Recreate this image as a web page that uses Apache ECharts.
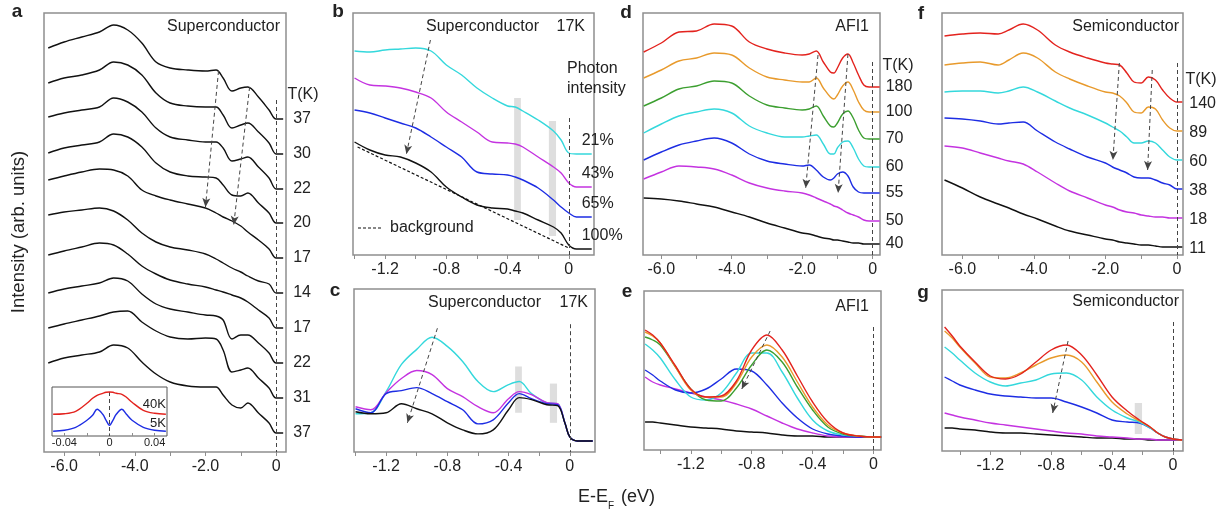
<!DOCTYPE html>
<html><head><meta charset="utf-8">
<script src="https://cdn.jsdelivr.net/npm/echarts@6/dist/echarts.min.js"></script>
<style>html,body{margin:0;padding:0;background:#fff}#chart{width:1230px;height:512px}</style>
</head><body><div id="chart"></div>
<script>
// ================= DATA (arbitrary intensity units) =================
// Panel a: superconductor, temperature series, E-EF (eV)
const A_X = [-6.45, -6.0, -5.5, -5.0, -4.6, -4.2, -3.8, -3.4, -3.0, -2.5, -2.0, -1.7, -1.5, -1.25, -1.0, -0.8, -0.5, -0.2, 0, 0.2];
const A_T = ['37', '30', '22', '20', '17', '14', '17', '22', '31', '37'];
const A_37a = [404, 410, 415, 420, 427, 422, 409, 390, 384, 382, 381, 382, 374, 361, 364, 365, 355, 342, 333, 333];
const A_30  = [369, 374, 377, 382, 390, 387, 377, 359, 349, 346, 345, 345, 337, 324, 327, 329, 320, 309, 298, 298];
const A_22a = [335, 339, 342, 345, 354, 350, 340, 324, 315, 312, 310, 310, 304, 291, 293, 295, 285, 274, 263, 263];
const A_20  = [299, 304, 307, 310, 318, 315, 305, 289, 280, 276, 275, 274, 267, 257, 256, 259, 249, 239, 229, 229];
const A_17a = [272, 276, 280, 283, 282, 276, 262, 256, 252, 248, 244, 239, 235, 231, 226, 220, 212, 203, 194, 194];
const A_14  = [237, 240, 242, 244, 241, 232, 219, 210, 205, 202, 198, 193, 189, 184, 180, 176, 171, 168, 159, 159];
const A_17b = [197, 201, 205, 209, 207, 198, 186, 178, 172, 168, 165, 162, 160, 157, 154, 150, 142, 134, 124, 124];
const A_22b = [159, 163, 166, 169, 174, 171, 158, 148, 143, 140, 137, 136, 132, 113, 117, 117, 109, 99, 89, 89];
const A_31  = [124, 128, 132, 136, 140, 141, 130, 121, 115, 113, 114, 113, 102, 80, 82, 84, 74, 64, 54, 54];
const A_37b = [89, 94, 97, 100, 107, 104, 90, 78, 70, 66, 65, 65, 57, 47, 44, 49, 39, 29, 19, 19];
const A_ARROWS = [[-1.63, 381, -2.0, 245], [-0.75, 365, -1.2, 227]];
const A_ZERO_TOP = 352;
// Panel a inset: gap (eV)
const IN_X = [-0.05, -0.04, -0.03, -0.02, -0.015, -0.011, -0.006, -0.003, 0, 0.003, 0.006, 0.011, 0.015, 0.02, 0.03, 0.04, 0.05];
const IN_40K = [21.7, 22.2, 24.7, 32.7, 37.7, 40.7, 42.7, 43.7, 44, 43.7, 42.7, 41.7, 38.7, 33.7, 25.7, 22.7, 21.7];
const IN_5K  = [4.7, 5.7, 8.7, 15.7, 20.7, 26.7, 21.7, 15.7, 10.7, 15.7, 21.7, 26.7, 21.7, 15.7, 8.7, 5.7, 4.7];
const IN_LABELS = ['40K', '5K'];
const IN_ZERO_TOP = 44;

// Panel b: superconductor 17K, photon intensity
const B_X = [-1.4, -1.3, -1.2, -1.1, -1.0, -0.9, -0.8, -0.7, -0.6, -0.5, -0.4, -0.35, -0.3, -0.2, -0.1, -0.05, 0, 0.05, 0.15];
const B_LABELS = ['21%', '43%', '65%', '100%'];
const B_21  = [204, 203, 205, 206, 207, 204, 190, 180, 167, 157, 149, 148, 144, 135, 124, 115, 102, 101, 101];
const B_43  = [177, 170, 169, 167, 163, 157, 143, 133, 123, 113, 112, 111, 108, 98, 88, 82, 72, 68, 68];
const B_65  = [145, 142, 137, 132, 127, 118, 108, 98, 83, 81, 80, 78, 75, 67, 55, 48, 42, 38, 38];
const B_100 = [113, 105, 100, 98, 92, 83, 68, 58, 50, 47, 46, 44, 42, 35, 28, 22, 10, 6, 6];
const B_BG_X = [-1.38, 0];
const B_BG = [108, 7];
const B_ARROWS = [[-0.904, 215, -1.061, 101]];
const B_BANDS = [[-0.357, -0.313, 35, 157], [-0.13, -0.083, 19, 134]];
const B_ZERO_TOP = 137;

// Panel c: background-subtracted
const C_X = [-1.4, -1.3, -1.2, -1.1, -1.0, -0.9, -0.8, -0.7, -0.6, -0.5, -0.4, -0.33, -0.25, -0.15, -0.08, -0.03, 0, 0.05, 0.15];
const C_21  = [38, 39, 60, 87, 102, 114, 105, 90, 70, 60, 67, 70, 58, 49, 48, 28, 15, 11, 11];
const C_43  = [45, 42, 59, 73, 81, 77, 63, 55, 45, 39, 53, 60, 57, 49, 48, 28, 15, 11, 11];
const C_65  = [43, 39, 58, 61, 64, 58, 50, 42, 28, 32, 49, 58, 53, 48, 47, 28, 15, 11, 11];
const C_100 = [40, 38, 39, 48, 43, 38, 29, 22, 18, 22, 42, 54, 52, 47, 46, 28, 15, 11, 11];
const C_ARROWS = [[-0.865, 123, -1.061, 29]];
const C_BANDS = [[-0.357, -0.313, 39, 85], [-0.13, -0.083, 29, 68]];
const C_ZERO_TOP = 127;

// Panel d: AFI1, temperature series
const D_X = [-6.5, -6.0, -5.5, -5.0, -4.5, -4.0, -3.5, -3.0, -2.5, -2.0, -1.8, -1.6, -1.4, -1.2, -1.1, -1.0, -0.85, -0.7, -0.55, -0.4, -0.25, -0.1, 0, 0.2];
const D_T = ['180', '100', '70', '60', '55', '50', '40'];
const D_180 = [203, 212, 223, 224, 231, 229, 213, 206, 202, 200, 201, 204, 193, 183, 182, 187, 197, 201, 192, 180, 170, 168, 168, 168];
const D_100 = [177, 185, 194, 197, 202, 200, 187, 178, 175, 173, 173, 177, 167, 158, 156, 160, 169, 173, 165, 153, 145, 143, 143, 143];
const D_70  = [149, 157, 166, 169, 174, 172, 159, 150, 147, 145, 146, 149, 139, 129, 128, 132, 141, 144, 137, 125, 117, 116, 116, 116];
const D_60  = [122, 131, 139, 143, 146, 142, 129, 122, 118, 118, 119, 120, 111, 101, 101, 107, 113, 114, 107, 96, 89, 88, 88, 88];
const D_55  = [95, 103, 110, 114, 117, 112, 101, 94, 91, 89, 90, 85, 78, 75, 77, 81, 83, 79, 68, 63, 62, 62, 62, 62];
const D_50  = [76, 83, 89, 88, 86, 80, 72, 67, 64, 62, 60, 57, 54, 51, 49, 48, 45, 42, 40, 38, 35, 34, 34, 34];
const D_40  = [57, 56, 54, 51, 48, 43, 38, 32, 27, 22, 21, 19, 17, 16, 15, 15, 14, 13, 12, 12, 11, 11, 11, 11];
const D_ARROWS = [[-1.55, 200, -1.90, 67], [-0.70, 201, -0.98, 62]];
const D_ZERO_TOP = 193;

// Panel e: AFI1 background-subtracted
const E_X = [-1.5, -1.45, -1.4, -1.3, -1.2, -1.1, -1.0, -0.9, -0.8, -0.7, -0.6, -0.5, -0.4, -0.3, -0.2, -0.1, 0, 0.05];
const E_180 = [120, 115, 107, 84, 61, 53, 54, 69, 100, 115, 100, 74, 48, 28, 17, 14, 13, 13];
const E_100 = [118, 114, 107, 83, 60, 53, 53, 67, 93, 105, 93, 68, 43, 25, 17, 14, 13, 13];
const E_70  = [113, 110, 105, 83, 61, 50, 49, 62, 85, 100, 88, 63, 40, 23, 16, 14, 13, 13];
const E_60  = [106, 100, 92, 70, 53, 50, 57, 77, 97, 97, 78, 52, 30, 19, 15, 14, 13, 13];
const E_55  = [80, 75, 69, 60, 57, 61, 71, 81, 79, 65, 47, 32, 21, 16, 14, 13, 13, 13];
const E_50  = [73, 68, 65, 61, 57, 53, 50, 46, 41, 34, 27, 21, 17, 14, 13, 13, 13, 13];
const E_40  = [28, 28, 27, 25, 23, 22, 21, 19, 18, 17, 15, 14, 14, 13, 13, 13, 13, 13];
const E_ARROWS = [[-0.679, 119, -0.865, 61]];
const E_ZERO_TOP = 123;

// Panel f: semiconductor, temperature series
const F_X = [-6.5, -6.0, -5.5, -5.0, -4.7, -4.3, -3.9, -3.4, -3.0, -2.5, -2.0, -1.8, -1.6, -1.4, -1.2, -1.0, -0.8, -0.6, -0.4, -0.2, 0, 0.15];
const F_T = ['140', '89', '60', '38', '18', '11'];
const F_140 = [219, 221, 222, 221, 225, 231, 225, 210, 203, 197, 192, 191, 190, 182, 173, 172, 178, 175, 165, 157, 153, 153];
const F_89  = [190, 192, 193, 190, 195, 202, 197, 183, 176, 169, 163, 162, 159, 152, 143, 142, 148, 146, 135, 127, 124, 124];
const F_60  = [163, 164, 164, 162, 164, 168, 163, 154, 147, 140, 132, 128, 124, 118, 112, 112, 114, 112, 105, 98, 95, 95];
const F_38  = [137, 136, 134, 131, 132, 133, 124, 113, 106, 98, 92, 88, 85, 82, 78, 77, 77, 75, 72, 70, 66, 66];
const F_18  = [109, 107, 102, 97, 94, 91, 83, 72, 64, 57, 50, 48, 45, 43, 42, 40, 39, 38, 38, 37, 37, 37];
const F_11  = [75, 67, 58, 51, 47, 41, 36, 29, 24, 20, 16, 15, 13, 12, 11, 10, 10, 9, 8, 8, 8, 8];
const F_ARROWS = [[-1.61, 192, -1.79, 95], [-0.69, 185, -0.82, 85]];
const F_ZERO_TOP = 192;

// Panel g: semiconductor background-subtracted
const G_X = [-1.5, -1.45, -1.4, -1.3, -1.2, -1.1, -1.0, -0.9, -0.8, -0.7, -0.6, -0.5, -0.4, -0.3, -0.22, -0.15, -0.1, -0.05, 0, 0.06];
const G_140 = [124, 115, 105, 89, 75, 72, 77, 89, 101, 106, 96, 76, 54, 40, 31, 24, 18, 14, 12, 11];
const G_89  = [120, 113, 104, 88, 74, 73, 78, 86, 93, 96, 89, 69, 49, 37, 30, 24, 18, 14, 12, 11];
const G_60  = [104, 98, 91, 78, 69, 65, 68, 71, 77, 78, 71, 54, 41, 33, 29, 23, 18, 14, 12, 11];
const G_38  = [74, 70, 66, 61, 57, 55, 54, 53, 53, 49, 44, 38, 31, 29, 28, 23, 18, 14, 12, 11];
const G_18  = [38, 36, 34, 31, 28, 26, 24, 22, 20, 18, 17, 15, 14, 13, 12, 12, 11, 11, 11, 11];
const G_11  = [23, 23, 22, 21, 19, 18, 18, 17, 16, 15, 14, 13, 13, 12, 12, 11, 11, 11, 11, 11];
const G_ARROWS = [[-0.689, 110, -0.79, 38]];
const G_BANDS = [[-0.251, -0.203, 17, 48]];
const G_ZERO_TOP = 129;

// Tick positions / labels
const WIDE_TICKS = [-6, -5, -4, -3, -2, -1, 0];
const WIDE_LABELS = [-6, -4, -2, 0];
const NARROW_TICKS = [-1.4, -1.2, -1.0, -0.8, -0.6, -0.4, -0.2, 0];
const NARROW_LABELS = [-1.2, -0.8, -0.4, 0];
const INSET_TICKS = [-0.04, -0.02, 0, 0.02, 0.04];
const INSET_LABELS = [-0.04, 0, 0.04];

// ================= STYLE / BUILD =================
const FONT = '"Liberation Sans", Arial, Helvetica, sans-serif';
const COL = {red: '#e3231e', orange: '#e89a2c', green: '#3c9f30', cyan: '#34d8dc', blue: '#1d2de3', magenta: '#c433e0', black: '#111111'};
const grids = [], xAxes = [], yAxes = [], series = [], graphics = [];

function fmt(v, d) { return Math.abs(v) < 1e-9 ? '0' : v.toFixed(d); }
function panel(box, xmin, xmax, ymax, ticks, labs, o) {
  o = o || {};
  const i = grids.length;
  grids.push({left: box[0], top: box[1], width: box[2], height: box[3], show: true,
    borderColor: o.border || '#8e8e8e', borderWidth: o.bw || 1.5, backgroundColor: o.bg || 'transparent'});
  xAxes.push({type: 'value', gridIndex: i, min: xmin, max: xmax,
    axisLine: {show: false}, splitLine: {show: false},
    axisTick: {show: true, inside: !!o.inside, length: o.tl || 4, lineStyle: {color: '#8e8e8e', width: 1}, customValues: ticks},
    axisLabel: {customValues: labs, formatter: v => fmt(v, o.dec || 1), fontSize: o.fs || 16, color: '#222',
      fontFamily: FONT, margin: o.margin == null ? 7 : o.margin}});
  yAxes.push({type: 'value', gridIndex: i, min: 0, max: ymax, show: false});
  return i;
}
function line(i, xs, ys, color, extra) {
  series.push(Object.assign({type: 'line', xAxisIndex: i, yAxisIndex: i,
    data: xs.map((x, k) => [x, ys[k]]), showSymbol: false, symbol: 'none',
    smooth: 0.35, lineStyle: {color: color, width: 1.4}, itemStyle: {color: color},
    silent: true, z: 3, animation: false}, extra || {}));
}
function endLab(text, dist, dy, dx) {
  return {endLabel: {show: true, formatter: () => text, distance: dist, offset: [dx || 0, dy || 0],
    fontSize: 16, color: '#222', fontFamily: FONT}};
}
function annot(i, zeroTop, arrows, bands) {
  const data = [[{coord: [0, zeroTop], symbol: 'none'}, {coord: [0, 0], symbol: 'none'}]];
  arrows.forEach(a => data.push([{coord: [a[0], a[1]], symbol: 'none'}, {coord: [a[2], a[3]], symbol: 'arrow', symbolSize: [6, 9]}]));
  series.push({type: 'line', xAxisIndex: i, yAxisIndex: i, data: [], silent: true, z: 5, animation: false,
    markLine: {silent: true, animation: false, symbol: ['none', 'none'], label: {show: false},
      lineStyle: {type: [4, 3], color: '#444', width: 1}, emphasis: {disabled: true}, data: data}});
  if (bands) {
    series.push({type: 'line', xAxisIndex: i, yAxisIndex: i, data: [], silent: true, z: 1, animation: false,
      markArea: {silent: true, itemStyle: {color: '#dedede'}, emphasis: {disabled: true},
        data: bands.map(b => [{coord: [b[0], b[2]]}, {coord: [b[1], b[3]]}])}});
  }
}
function txt(x, y, s, o) {
  o = o || {};
  graphics.push({type: 'text', x: x, y: y, rotation: o.rot || 0, silent: true, z: 10,
    style: {text: s, fill: '#222', font: (o.bold ? 'bold ' : '') + (o.fs || 16) + 'px ' + FONT,
      align: o.align || 'left', verticalAlign: 'middle', textAlign: o.align || 'left', textVerticalAlign: 'middle'}});
}

// ---- panel a
const ia = panel([44, 13, 242, 439], -6.57, 0.28, 439, WIDE_TICKS, WIDE_LABELS);
[A_37a, A_30, A_22a, A_20, A_17a, A_14, A_17b, A_22b, A_31, A_37b].forEach((ys, k) =>
  line(ia, A_X, ys, COL.black, endLab(A_T[k], 10, 0)));
annot(ia, A_ZERO_TOP, A_ARROWS);
// inset
const iin = panel([52, 387, 115, 49], -0.051, 0.051, 49, INSET_TICKS, INSET_LABELS,
  {inside: true, tl: 3, fs: 11, dec: 2, margin: 1, border: '#555', bw: 1, bg: '#fff'});
line(iin, IN_X, IN_40K, COL.red, {z: 6});
line(iin, IN_X, IN_5K, COL.blue, {z: 6});
series.push({type: 'line', xAxisIndex: iin, yAxisIndex: iin, data: [], silent: true, z: 6, animation: false,
  markLine: {silent: true, animation: false, symbol: ['none', 'none'], label: {show: false},
    lineStyle: {type: [4, 3], color: '#444', width: 1}, data: [[{coord: [0, IN_ZERO_TOP]}, {coord: [0, 0]}]]}});

// ---- panel b
const ib = panel([353, 13, 241, 242], -1.41, 0.165, 242, NARROW_TICKS, NARROW_LABELS);
[[B_21, COL.cyan], [B_43, COL.magenta], [B_65, COL.blue], [B_100, COL.black]].forEach((p, k) =>
  line(ib, B_X, p[0], p[1], endLab(B_LABELS[k], 0, -13, -10)));
line(ib, B_BG_X, B_BG, COL.black, {smooth: false, lineStyle: {color: COL.black, width: 1.2, type: [3, 2]}});
annot(ib, B_ZERO_TOP, B_ARROWS, B_BANDS);

// ---- panel c
const ic = panel([354, 289, 241, 163], -1.41, 0.165, 162, NARROW_TICKS, NARROW_LABELS);
[[C_21, COL.cyan], [C_43, COL.magenta], [C_65, COL.blue], [C_100, COL.black]].forEach(p =>
  line(ic, C_X, p[0], p[1]));
annot(ic, C_ZERO_TOP, C_ARROWS, C_BANDS);

// ---- panel d
const id = panel([643, 13, 237, 242], -6.52, 0.21, 242, WIDE_TICKS, WIDE_LABELS);
[[D_180, COL.red], [D_100, COL.orange], [D_70, COL.green], [D_60, COL.cyan], [D_55, COL.blue], [D_50, COL.magenta], [D_40, COL.black]]
  .forEach((p, k) => line(id, D_X, p[0], p[1], endLab(D_T[k], 6, 0)));
annot(id, D_ZERO_TOP, D_ARROWS);

// ---- panel e
const ie = panel([644, 291, 237, 159], -1.507, 0.049, 159, NARROW_TICKS, NARROW_LABELS);
[[E_40, COL.black], [E_50, COL.magenta], [E_55, COL.blue], [E_60, COL.cyan], [E_70, COL.green], [E_100, COL.orange], [E_180, COL.red]]
  .forEach(p => line(ie, E_X, p[0], p[1]));
annot(ie, E_ZERO_TOP, E_ARROWS);

// ---- panel f
const iff = panel([942, 13, 241, 242], -6.57, 0.17, 242, WIDE_TICKS, WIDE_LABELS);
[[F_140, COL.red], [F_89, COL.orange], [F_60, COL.cyan], [F_38, COL.blue], [F_18, COL.magenta], [F_11, COL.black]]
  .forEach((p, k) => line(iff, F_X, p[0], p[1], endLab(F_T[k], 7, 2)));
annot(iff, F_ZERO_TOP, F_ARROWS);

// ---- panel g
const ig = panel([942, 290, 241, 161], -1.517, 0.066, 161, NARROW_TICKS, NARROW_LABELS);
[[G_11, COL.black], [G_18, COL.magenta], [G_38, COL.blue], [G_60, COL.cyan], [G_89, COL.orange], [G_140, COL.red]]
  .forEach(p => line(ig, G_X, p[0], p[1]));
annot(ig, G_ZERO_TOP, G_ARROWS, G_BANDS);

// ---- texts
[['a', 17, 12], ['b', 338, 12], ['c', 335, 291], ['d', 626, 13], ['e', 627, 292], ['f', 921, 14], ['g', 923, 293]]
  .forEach(t => txt(t[1], t[2], t[0], {bold: true, fs: 19, align: 'center'}));
txt(280, 27, 'Superconductor', {align: 'right'});
txt(303, 95, 'T(K)', {align: 'center'});
txt(426, 27, 'Superconductor');
txt(585, 27, '17K', {align: 'right'});
txt(567, 69, 'Photon');
txt(567, 89, 'intensity');
txt(390, 228, 'background');
graphics.push({type: 'line', silent: true, z: 10, shape: {x1: 358, y1: 228, x2: 383, y2: 228},
  style: {stroke: '#111', lineWidth: 1.2, lineDash: [3, 2]}});
txt(428, 303, 'Superconductor');
txt(588, 303, '17K', {align: 'right'});
txt(869, 27, 'AFI1', {align: 'right'});
txt(898, 66, 'T(K)', {align: 'center'});
txt(869, 307, 'AFI1', {align: 'right'});
txt(1179, 27, 'Semiconductor', {align: 'right'});
txt(1201, 80, 'T(K)', {align: 'center'});
txt(1179, 302, 'Semiconductor', {align: 'right'});
txt(166, 404, IN_LABELS[0], {align: 'right', fs: 13});
txt(166, 423, IN_LABELS[1], {align: 'right', fs: 13});
txt(19, 232, 'Intensity (arb. units)', {align: 'center', fs: 18.5, rot: Math.PI / 2});
txt(578, 497, 'E-E', {fs: 18});
txt(608, 506, 'F', {fs: 10});
txt(621, 497, '(eV)', {fs: 18});

const chart = echarts.init(document.getElementById('chart'), null, {renderer: 'canvas'});
chart.setOption({animation: false, backgroundColor: '#fff',
  grid: grids, xAxis: xAxes, yAxis: yAxes, series: series, graphic: graphics});
</script>
</body></html>
